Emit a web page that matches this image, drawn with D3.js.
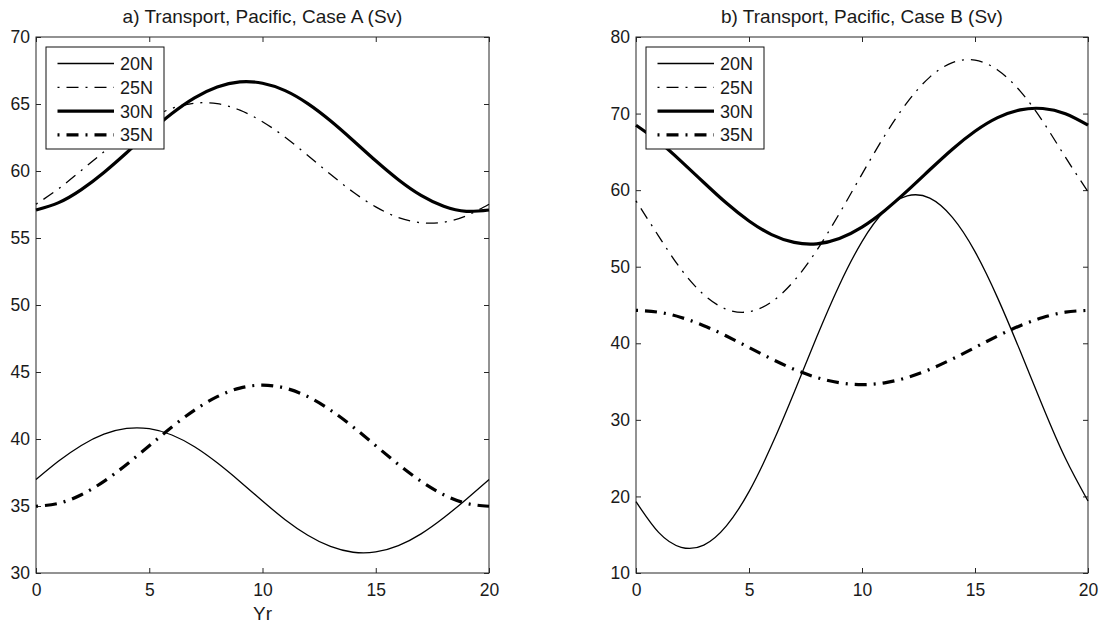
<!DOCTYPE html>
<html>
<head>
  <meta charset="UTF-8">
  <title>Transport, Pacific</title>
  <style>
    body { margin: 0; background: #fff; }
    text { font-family: "Liberation Sans", Helvetica, Arial, sans-serif; fill: #1a1a1a; }
  </style>
</head>
<body>
  <div id="chart"></div>
  <script src="https://cdn.jsdelivr.net/npm/d3@7"></script>
  <script>
    // years on the x axis
    var years = [0, 1, 2, 3, 4, 5, 6, 7, 8, 9, 10, 11, 12, 13, 14, 15, 16, 17, 18, 19, 20];
    var xTicks = [0, 5, 10, 15, 20];
    var seriesNames = ["20N", "25N", "30N", "35N"];

    // a) case A (Sv)
    var caseA20N = [36.97, 38.35, 39.52, 40.36, 40.79, 40.77, 40.30, 39.42, 38.22, 36.83, 35.37, 33.98, 32.82, 31.98, 31.55, 31.57, 32.04, 32.92, 34.12, 35.51, 36.97];
    var caseA25N = [57.52, 58.68, 60.04, 61.44, 62.77, 63.88, 64.67, 65.06, 65.02, 64.54, 63.68, 62.52, 61.16, 59.76, 58.43, 57.32, 56.53, 56.14, 56.18, 56.66, 57.52];
    var caseA30N = [57.09, 57.64, 58.61, 59.89, 61.36, 62.88, 64.29, 65.46, 66.27, 66.65, 66.55, 66.00, 65.03, 63.75, 62.28, 60.76, 59.35, 58.18, 57.37, 56.99, 57.09];
    var caseA35N = [34.98, 35.20, 35.84, 36.84, 38.10, 39.50, 40.90, 42.16, 43.16, 43.80, 44.02, 43.80, 43.16, 42.16, 40.90, 39.50, 38.10, 36.84, 35.84, 35.20, 34.98];
    var caseAYTicks = [30, 35, 40, 45, 50, 55, 60, 65, 70];

    // b) case B (Sv)
    var caseB20N = [19.32, 15.30, 13.36, 13.65, 16.16, 20.63, 26.67, 33.62, 40.85, 47.62, 53.28, 57.30, 59.24, 58.95, 56.44, 51.97, 45.93, 38.98, 31.75, 24.98, 19.40];
    var caseB25N = [58.60, 54.00, 49.64, 46.35, 44.45, 44.12, 45.40, 48.17, 52.15, 56.95, 62.10, 67.10, 71.46, 74.76, 76.65, 76.98, 75.70, 72.93, 68.98, 64.30, 59.80];
    var caseB30N = [68.48, 66.34, 63.76, 61.00, 58.31, 55.97, 54.19, 53.17, 52.99, 53.69, 55.18, 57.32, 59.90, 62.66, 65.35, 67.69, 69.47, 70.49, 70.66, 69.97, 68.48];
    var caseB35N = [44.30, 44.06, 43.37, 42.30, 40.95, 39.45, 37.95, 36.60, 35.53, 34.84, 34.60, 34.84, 35.53, 36.60, 37.95, 39.45, 40.95, 42.30, 43.37, 44.06, 44.30];
    var caseBYTicks = [10, 20, 30, 40, 50, 60, 70, 80];

    // line styles per latitude
    var styles = [
      { width: 1.3, dash: null },
      { width: 1.3, dash: "2,7,12,7" },
      { width: 3.2, dash: null },
      { width: 3.2, dash: "2,7,12,7" }
    ];

    var W = 1105, H = 628;
    var svg = d3.select('#chart').append('svg')
      .attr('width', W)
      .attr('height', H);

    function drawPanel(opts) {
      var x = d3.scaleLinear().domain([0, 20]).range([opts.left, opts.right]);
      var y = d3.scaleLinear().domain(d3.extent(opts.yTicks)).range([573, 37]);
      var g = svg.append('g');

      // inward ticks on all four sides
      g.append('g').attr('transform', 'translate(0,573)')
        .call(d3.axisBottom(x).tickValues(xTicks).tickSizeInner(-5).tickSizeOuter(0).tickPadding(10.5));
      g.append('g').attr('transform', 'translate(0,37)')
        .call(d3.axisTop(x).tickValues(xTicks).tickSizeInner(-5).tickSizeOuter(0).tickFormat(''));
      g.append('g').attr('transform', 'translate(' + opts.left + ',0)')
        .call(d3.axisLeft(y).tickValues(opts.yTicks).tickSizeInner(-5).tickSizeOuter(0).tickPadding(6));
      g.append('g').attr('transform', 'translate(' + opts.right + ',0)')
        .call(d3.axisRight(y).tickValues(opts.yTicks).tickSizeInner(-5).tickSizeOuter(0).tickFormat(''));

      g.selectAll('.tick line').attr('stroke', '#262626');
      g.selectAll('.domain').remove();
      g.selectAll('.tick text').style('font-size', '17.5px').attr('fill', '#1a1a1a');

      g.append('rect')
        .attr('x', opts.left).attr('y', 37)
        .attr('width', opts.right - opts.left).attr('height', 536)
        .attr('fill', 'none').attr('stroke', '#262626').attr('stroke-width', 1);

      var line = d3.line()
        .x(function (d, i) { return x(years[i]); })
        .y(function (d) { return y(d); })
        .curve(d3.curveNatural);

      opts.series.forEach(function (s, i) {
        g.append('path')
          .datum(s)
          .attr('d', line)
          .attr('fill', 'none')
          .attr('stroke', '#000')
          .attr('stroke-width', styles[i].width)
          .attr('stroke-dasharray', styles[i].dash);
      });

      // title
      g.append('text')
        .attr('x', (opts.left + opts.right) / 2)
        .attr('y', 23)
        .attr('text-anchor', 'middle')
        .style('font-size', '19px')
        .text(opts.title);

      if (opts.xlabel) {
        g.append('text')
          .attr('x', (opts.left + opts.right) / 2)
          .attr('y', 620)
          .attr('text-anchor', 'middle')
          .style('font-size', '19px')
          .text(opts.xlabel);
      }

      // legend
      var lx = opts.left + 10, ly = 47;
      var lg = g.append('g').attr('transform', 'translate(' + lx + ',' + ly + ')');
      lg.append('rect')
        .attr('width', 118).attr('height', 102)
        .attr('fill', '#fff').attr('stroke', '#111').attr('stroke-width', 1);
      seriesNames.forEach(function (name, i) {
        var ry = 16.5 + i * 23.8;
        lg.append('line')
          .attr('x1', 11.5).attr('x2', 68)
          .attr('y1', ry).attr('y2', ry)
          .attr('stroke', '#000')
          .attr('stroke-width', styles[i].width)
          .attr('stroke-dasharray', styles[i].dash);
        lg.append('text')
          .attr('x', 74).attr('y', ry)
          .attr('dy', '0.36em')
          .style('font-size', '18px')
          .text(name);
      });
    }

    drawPanel({
      left: 36, right: 489,
      yTicks: caseAYTicks,
      series: [caseA20N, caseA25N, caseA30N, caseA35N],
      title: 'a) Transport, Pacific, Case A (Sv)',
      xlabel: 'Yr'
    });

    drawPanel({
      left: 636, right: 1088,
      yTicks: caseBYTicks,
      series: [caseB20N, caseB25N, caseB30N, caseB35N],
      title: 'b) Transport, Pacific, Case B (Sv)',
      xlabel: null
    });
  </script>
</body>
</html>
